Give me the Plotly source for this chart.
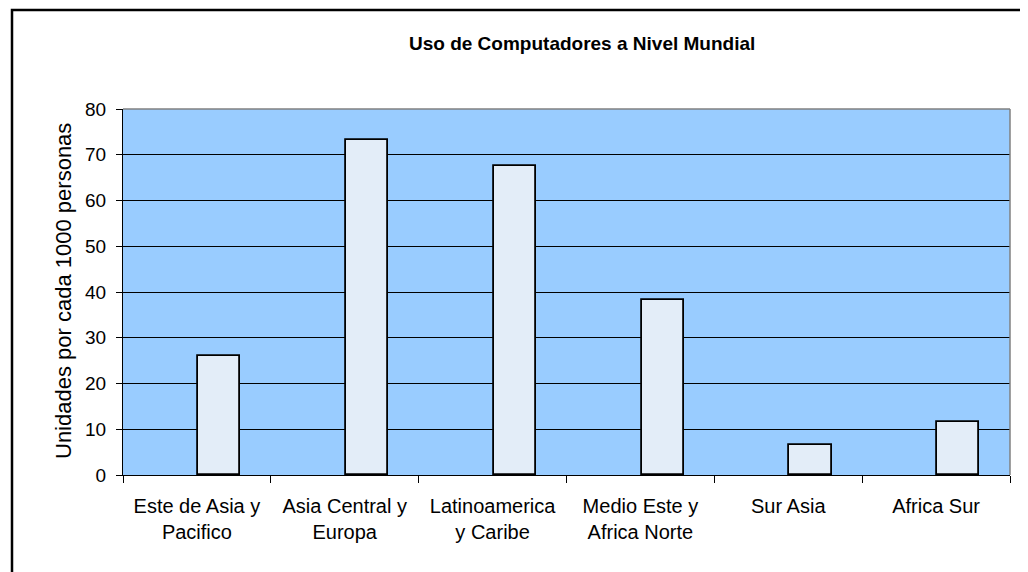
import plotly.graph_objects as go

categories = ["Este de Asia y<br>Pacifico", "Asia Central y<br>Europa", "Latinoamerica<br>y Caribe",
              "Medio Este y<br>Africa Norte", "Sur Asia", "Africa Sur"]
values = [26.1, 73.2, 67.5, 38.3, 6.6, 11.6]
y_ticks = [0, 10, 20, 30, 40, 50, 60, 70, 80]

OFF = 8  # page body margin
W, H = 1028 - OFF, 572 - OFF
L, R, T, B = 123, 1010, 109, 475   # page coordinates of plot area
pw, ph = R - L, B - T

def px(x):
    return (x - L) / pw

def py(y):
    return (B - y) / ph

fig = go.Figure()
fig.add_trace(go.Bar(
    x=categories, y=values,
    width=0.285, offset=0.008,
    marker=dict(color="#E3EDF8", line=dict(color="black", width=1.8)),
    showlegend=False,
))

font = "Liberation Sans, Arial, sans-serif"
fig.update_layout(
    width=W, height=H, autosize=False,
    margin=dict(l=L - OFF, r=W - (R - OFF), t=T - OFF, b=H - (B - OFF), pad=0),
    paper_bgcolor="white", plot_bgcolor="#99CCFF",
    font=dict(family=font, size=18, color="black"),
    xaxis=dict(range=[-0.5, 5.5], tickson="boundaries", ticks="outside", ticklen=7,
               tickcolor="black", showline=True, linecolor="black", linewidth=1,
               showgrid=False, tickfont=dict(size=20), ticklabelstandoff=13,
               fixedrange=True),
    yaxis=dict(range=[0, 80], tickvals=y_ticks, ticks="outside", ticklen=6,
               tickcolor="black", showline=True, linecolor="black", linewidth=1,
               showgrid=True, gridcolor="black", gridwidth=1, zeroline=False,
               tickfont=dict(size=19), ticklabelstandoff=6, fixedrange=True),
    bargap=0,
)

# plot area top/right gray border
fig.add_shape(type="line", xref="paper", yref="paper", x0=0, x1=1, y0=1, y1=1,
              line=dict(color="#808080", width=1.5))
fig.add_shape(type="line", xref="paper", yref="paper", x0=1, x1=1, y0=0, y1=1,
              line=dict(color="#808080", width=1.5))
# outer chart border
fig.add_shape(type="rect", xref="paper", yref="paper",
              x0=px(12), x1=px(1025), y0=py(590), y1=py(10),
              line=dict(color="black", width=2.5), fillcolor="rgba(0,0,0,0)", layer="above")

fig.add_annotation(text="<b>Uso de Computadores a Nivel Mundial</b>", xref="paper", yref="paper",
                   x=px(582), y=py(43), xanchor="center", yanchor="middle", showarrow=False,
                   font=dict(size=19, family=font))
fig.add_annotation(text="Unidades por cada 1000 personas", xref="paper", yref="paper",
                   x=px(63), y=py(291), xanchor="center", yanchor="middle", showarrow=False,
                   textangle=-90, font=dict(size=22, family=font))

fig.write_html("out.html")
